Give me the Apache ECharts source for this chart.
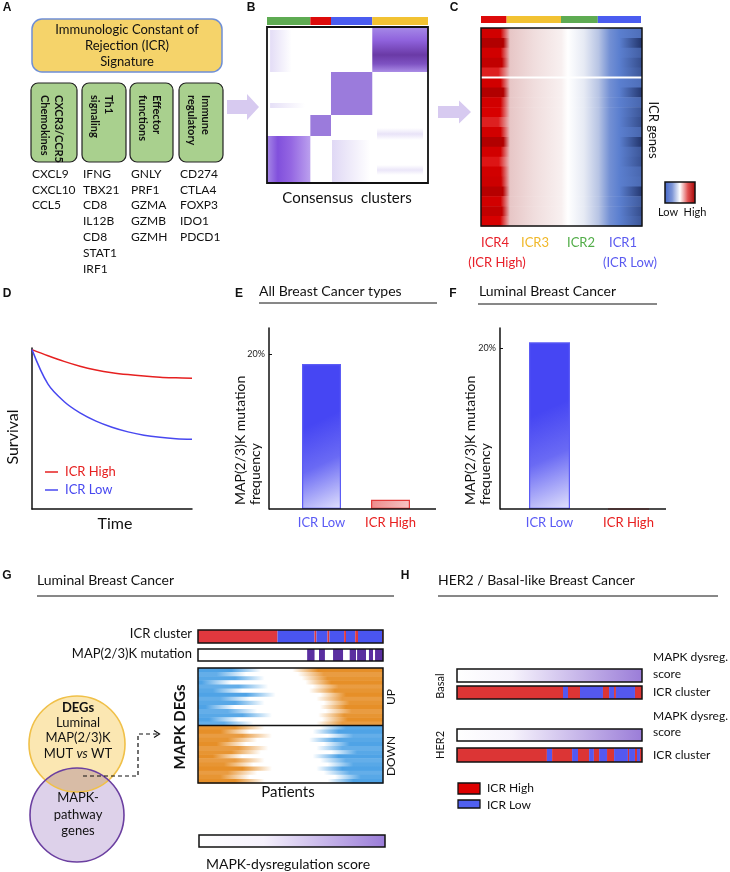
<!DOCTYPE html>
<html><head><meta charset="utf-8">
<script src="https://cdn.jsdelivr.net/npm/echarts@6/dist/echarts.min.js"></script>
<style>html,body{margin:0;padding:0;background:#fff}#main{width:730px;height:872px}</style>
</head><body><div id="main"></div>
<script>
// ================= DATA =================
// Panel A
const icrCategories = ['CXCR3/CCR5\nChemokines', 'Th1\nsignaling', 'Effector\nfunctions', 'Immune\nregulatory'];
const icrGenes = [
  ['CXCL9', 'CXCL10', 'CCL5'],
  ['IFNG', 'TBX21', 'CD8', 'IL12B', 'CD8', 'STAT1', 'IRF1'],
  ['GNLY', 'PRF1', 'GZMA', 'GZMB', 'GZMH'],
  ['CD274', 'CTLA4', 'FOXP3', 'IDO1', 'PDCD1']
];
// Panel B: consensus clusters (column order: ICR2, ICR4, ICR1, ICR3)
const consensusClusters = ['ICR2', 'ICR4', 'ICR1', 'ICR3'];
const consensusColSizes = [21, 10, 20, 27];
// consensus blocks: [colFrom, colTo, rowFrom, rowTo, consensus, shading]
const consensusBlocks = [
  [0, 21, 0, 23.5, 0.8, 'h'],
  [21, 31, 23.5, 34, 0.75, 'f'],
  [31, 51, 34, 55.5, 0.75, 'f'],
  [51, 78, 55.5, 78, 0.9, 'v'],
  [1.5, 12, 55.5, 76.5, 0.22, 'fade'],
  [1.5, 18.4, 37.5, 40, 0.2, 'fade'],
  [31.5, 50, 0.5, 21.5, 0.25, 'fade'],
  [53.3, 75.6, 21.5, 27.5, 0.18, 'strip'],
  [53.3, 75.6, 4, 9, 0.16, 'strip']
];
// Panel C: ICR clusters (ICR4, ICR3, ICR2, ICR1) and gene rows [red level, blue level]
const icrClusterNames = ['ICR4', 'ICR3', 'ICR2', 'ICR1'];
const icrClusterSub = ['(ICR High)', '', '', '(ICR Low)'];
const icrClusterSizes = [16, 34, 23, 27];
const icrGeneRows = [
  [0.6, 0.2], [0.9, 0.9], [0.6, 0.4], [0.75, 0.6], [0.35, 0.5],
  [0.6, 0.2], [0.9, 0.85], [0.6, 0.3], [0.55, 0.5], [0.35, 0.6],
  [0.6, 0.3], [0.9, 0.9], [0.6, 0.5], [0.4, 0.55], [0.6, 0.3],
  [0.65, 0.25], [0.85, 0.85], [0.6, 0.45], [0.75, 0.6], [0.55, 0.5]
];
const icrGeneRowSplit = 5;
// Panel D: survival curves [time, survival]
const survHigh = [[0,0.99],[1,0.952],[2,0.917],[3,0.887],[4,0.864],[5,0.847],[6,0.835],[7,0.826],[8,0.819],[9,0.815],[10,0.812]];
const survLow = [[0,0.99],[1,0.775],[2,0.668],[3,0.597],[4,0.546],[5,0.508],[6,0.479],[7,0.458],[8,0.445],[9,0.437],[10,0.433]];
// Panels E, F: MAP(2/3)K mutation frequency (%)
const mutCategories = ['ICR Low', 'ICR High'];
const mutFreqAll = [18.7, 1.2];
const mutFreqLuminal = [20.7, 0];
const mutTicks = [20];
// Panel G: patients (0-100) ICR cluster runs, mutation segments, heatmap rows
const gIcrRuns = [['High',43],['Low',20],['High',1],['Low',6],['High',1],['Low',8],['High',1],['Low',5],['High',1.5],['Low',13],['High',0.5]];
const gMutSegments = [[59,63],[65.4,68.6],[73,78.4],[82,85.4],[86,90.8],[92.4,94.6],[95.7,100]];
const gUpRows = [[0.28,0.55],[0.2,0.58],[0.3,0.6],[0.12,0.62],[0.32,0.66],[0.18,0.64],[0.36,0.7],[0.22,0.68],[0.3,0.72],[0.14,0.7],[0.26,0.73],[0.34,0.69],[0.16,0.71],[0.24,0.68]];
const gDownRows = [[0.3,0.7],[0.22,0.66],[0.34,0.74],[0.26,0.64],[0.2,0.72],[0.32,0.68],[0.28,0.76],[0.18,0.66],[0.3,0.7],[0.24,0.74],[0.34,0.68],[0.26,0.72],[0.22,0.78],[0.3,0.74]];
// Panel H: ICR cluster runs per subtype
const hBasalRuns = [['High',57.3],['Low',2.7],['High',6.5],['Low',12.4],['High',3.3],['Low',2.7],['High',1],['Low',10.3],['High',3.8]];
const hHer2Runs = [['High',48.6],['Low',2.8],['High',10.8],['Low',3.2],['High',6],['Low',2.6],['High',2.8],['Low',4.3],['High',3.8],['Low',7.5],['High',0.6],['Low',3.2],['High',1.1],['Low',1.6],['High',1.1]];

// ================= STYLE / HELPERS =================
const FONT = 'Lato, "Open Sans", sans-serif';
const C_RED = '#dd0a0a', C_YEL = '#f2c232', C_GRN = '#5eab52', C_BLU = '#4a5cf0';
const consensusColors = [C_GRN, C_RED, C_BLU, C_YEL];
const icrColors = [C_RED, C_YEL, C_GRN, C_BLU];
const icrTextColors = ['#e8202a', '#f0b82a', '#52ad48', '#5a5af0'];
const gIcrColors = {High: '#e0383e', Low: '#4a55f0'};
const hIcrColors = {High: '#dc3535', Low: '#5458f0'};
const LG = echarts.graphic.LinearGradient;

function hex2rgb(h){h=h.replace('#','');return [0,2,4].map(i=>parseInt(h.substr(i,2),16));}
function mix(a,b,t){const A=hex2rgb(a),B=hex2rgb(b);return 'rgb('+A.map((v,i)=>Math.round(v+(B[i]-v)*t)).join(',')+')';}
function cum(sizes){const o=[0];sizes.forEach(s=>o.push(o[o.length-1]+s));return o;}
function runsToSegs(runs){let s=0;return runs.map(([k,w])=>{const r=[s,s+w,k];s+=w;return r;});}

const grids=[], xAxes=[], yAxes=[], series=[], G=[];
function addGrid(rect, xa, ya){
  const gi=grids.length;
  grids.push(Object.assign({show:false, containLabel:false, outerBoundsMode:'none'}, rect));
  xAxes.push(Object.assign({gridIndex:gi}, xa));
  yAxes.push(Object.assign({gridIndex:gi}, ya));
  return gi;
}
function hv(min,max,extra){return Object.assign({type:'value',min,max,show:false},extra||{});}
function frame(gi, lw, midValue){
  series.push({type:'custom', xAxisIndex:gi, yAxisIndex:gi, silent:true, z:5, data:[[0,0]],
    renderItem(params, api){
      const c=params.coordSys;
      const ch=[{type:'rect', shape:{x:c.x,y:c.y,width:c.width,height:c.height}, style:{fill:'none',stroke:'#111',lineWidth:lw||1.5}}];
      if(midValue!=null){const p=api.coord([0,midValue]);ch.push({type:'line',shape:{x1:c.x,y1:p[1],x2:c.x+c.width,y2:p[1]},style:{stroke:'#111',lineWidth:1.5}});}
      return {type:'group', children:ch};
    }});
}
function segSeries(gi, segs, colorMap){
  series.push({type:'custom', xAxisIndex:gi, yAxisIndex:gi, silent:true, data:segs.map(s=>[s[0],s[1]]),
    renderItem(params, api){
      const s=segs[params.dataIndex];const a=api.coord([s[0],0]), b=api.coord([s[1],1]);
      return {type:'rect', shape:{x:a[0],y:b[1],width:b[0]-a[0],height:a[1]-b[1]}, style:{fill:colorMap[s[2]]}};
    }});
}
function txt(x,y,text,o){o=o||{};G.push({type:'text',x,y,rotation:o.rot||0,z:100,silent:true,
  style:{text,fill:o.color||'#111',font:o.font||('13px '+FONT),textAlign:o.align||'left',textVerticalAlign:o.va||'middle',lineHeight:o.lh||undefined}});}
function line(pts,o){o=o||{};G.push({type:'polyline',z:50,silent:true,shape:{points:pts},style:{stroke:o.color||'#111',lineWidth:o.w||1,lineDash:o.dash||null,fill:null}});}
function rect(x,y,w,h,style,r){G.push({type:'rect',z:20,silent:true,shape:{x,y,width:w,height:h,r:r||0},style});}
function arcPts(cx,cy,r,a0,a1,n){const p=[];for(let k=0;k<=n;k++){const a=a0+(a1-a0)*k/n;p.push([cx+r*Math.cos(a),cy+r*Math.sin(a)]);}return p;}

// ================= PANEL LABELS =================
const LBL = 'bold 12px "Liberation Sans", Arial, sans-serif';
[['A',7,8],['B',251,8],['C',454,8],['D',7,294],['E',239,294],['F',453,294],['G',7,576],['H',405,576]].forEach(([t,x,y])=>txt(x,y,t,{font:LBL,align:'center'}));

// ================= PANEL A =================
rect(32,19,190,53,{fill:'#f5d36a',stroke:'#6f8fd6',lineWidth:1.5},10);
txt(127,30,'Immunologic Constant of',{align:'center',font:'13px '+FONT});
txt(127,46,'Rejection (ICR)',{align:'center',font:'13px '+FONT});
txt(127,62,'Signature',{align:'center',font:'13px '+FONT});
const boxX=[[31,77],[82,126],[130,173],[179,223]];
const geneX=[32,83,131,180];
icrCategories.forEach((c,i)=>{
  const [x0,x1]=boxX[i];
  rect(x0,83,x1-x0,79,{fill:'#a9d08e',stroke:'#222',lineWidth:1.2},7);
  txt((x0+x1)/2-2,95,c,{rot:-Math.PI/2,font:'bold 11px '+FONT,align:'left',va:'middle',lh:14});
  icrGenes[i].forEach((g,j)=>txt(geneX[i],174+j*15.8,g,{font:'12px '+FONT}));
});
// block arrows
function blockArrow(x0,xh,xt,yc,bh,hh){G.push({type:'polygon',z:10,silent:true,shape:{points:[[x0,yc-bh],[xh,yc-bh],[xh,yc-hh],[xt,yc],[xh,yc+hh],[xh,yc+bh],[x0,yc+bh]]},style:{fill:'#d7caf0'}});}
blockArrow(227,247,259,107,7,13);
blockArrow(438,459,471,112,6,11.5);

// ================= PANEL B =================
const bTotal = consensusColSizes.reduce((a,b)=>a+b,0);
const bCum = cum(consensusColSizes);
const gB = addGrid({left:267,top:27,width:161,height:156}, hv(0,bTotal), hv(0,78));
series.push({type:'custom', xAxisIndex:gB, yAxisIndex:gB, silent:true, data:consensusBlocks.map(b=>[b[0],b[2]]),
  renderItem(params, api){
    const b=consensusBlocks[params.dataIndex];
    const p0=api.coord([b[0],b[3]]), p1=api.coord([b[1],b[2]]);
    let fill;
    if(b[5]==='h') fill=new LG(0,0,1,0,[{offset:0,color:'#a688e6'},{offset:0.25,color:'#8150dc'},{offset:0.55,color:'#9466e2'},{offset:1,color:'#bba0ee'}]);
    else if(b[5]==='f') fill='#9b7bdc';
    else if(b[5]==='v') fill=new LG(0,0,0,1,[{offset:0,color:'#a68ae8'},{offset:0.3,color:'#8f62dc'},{offset:0.62,color:'#6a3aa6'},{offset:0.82,color:'#7e52c2'},{offset:1,color:'#ab8de6'}]);
    else if(b[5]==='fade') fill=new LG(0,0,1,0,[{offset:0,color:'rgba(130,100,215,'+b[4]+')'},{offset:0.5,color:'rgba(130,100,215,'+(b[4]*0.5)+')'},{offset:1,color:'rgba(130,100,215,0)'}]);
    else fill=new LG(0,0,0,1,[{offset:0,color:'rgba(130,100,215,0)'},{offset:0.5,color:'rgba(130,100,215,'+b[4]+')'},{offset:1,color:'rgba(130,100,215,0)'}]);
    return {type:'rect', shape:{x:p0[0],y:p0[1],width:p1[0]-p0[0],height:p1[1]-p0[1]}, style:{fill}};
  }});
frame(gB, 1.8);
const gBbar = addGrid({left:267,top:17,width:161,height:8}, hv(0,bTotal), hv(0,1));
segSeries(gBbar, consensusColSizes.map((s,i)=>[bCum[i],bCum[i+1],i]), consensusColors);
txt(347,198,'Consensus  clusters',{align:'center',font:'15px '+FONT});

// ================= PANEL C =================
const cCum = cum(icrClusterSizes);
const cTot = cCum[cCum.length-1];
const gC = addGrid({left:481,top:28,width:161,height:198}, hv(0,cTot), hv(0,icrGeneRows.length,{inverse:true}));
series.push({type:'custom', xAxisIndex:gC, yAxisIndex:gC, silent:true, data:icrGeneRows.map((r,i)=>[0,i]),
  renderItem(params, api){
    const i=params.dataIndex, r=icrGeneRows[i];
    const p0=api.coord([0,i]), p1=api.coord([cTot,i+1]);
    const b1=cCum[1]/cTot, b2=cCum[2]/cTot, b3=cCum[3]/cTot;
    const red = r[0]>=0.5 ? mix('#dc0000','#a60000',(r[0]-0.5)*2) : mix('#e06a6a','#dc0000',r[0]*2);
    const blueEnd = mix('#5b7fcf','#1c2c60',r[1]);
    const hold = b1*(0.55+0.35*r[0]);
    const fill=new LG(0,0,1,0,[{offset:0,color:red},{offset:hold,color:red},{offset:b1+0.02,color:'#e7c6c6'},{offset:(b1+b2)/2,color:'#f0dddd'},{offset:b2,color:'#f8f0f0'},{offset:b2+0.04,color:'#ffffff'},{offset:b3-0.09,color:'#e6eaf4'},{offset:b3,color:'#b7c4e4'},{offset:b3+0.07,color:'#7390d4'},{offset:0.86,color:'#5b7fcf'},{offset:1,color:blueEnd}]);
    const ch=[{type:'rect',shape:{x:p0[0],y:p0[1],width:p1[0]-p0[0],height:p1[1]-p0[1]+0.5},style:{fill}}];
    if(i===icrGeneRowSplit) ch.push({type:'line',shape:{x1:p0[0],y1:p0[1],x2:p1[0],y2:p0[1]},style:{stroke:'#fff',lineWidth:2}});
    return {type:'group',children:ch};
  }});
frame(gC, 1.5);
const gCbar = addGrid({left:481,top:16,width:160,height:7}, hv(0,cTot), hv(0,1));
segSeries(gCbar, icrClusterSizes.map((s,i)=>[cCum[i],cCum[i+1],i]), icrColors);
txt(653,130,'ICR genes',{rot:-Math.PI/2,align:'center',font:'13px '+FONT});
rect(665,182,30,21,{fill:new LG(0,0,1,0,[{offset:0,color:'#3f63c8'},{offset:0.25,color:'#7d95d6'},{offset:0.5,color:'#ffffff'},{offset:0.75,color:'#e05050'},{offset:1,color:'#a00000'}]),stroke:'#111',lineWidth:1.5});
txt(668,212,'Low',{align:'center',font:'11px '+FONT});
txt(695,212,'High',{align:'center',font:'11px '+FONT});
const cLabX=[495,535,581,623];
icrClusterNames.forEach((n,i)=>{txt(cLabX[i],243,n,{align:'center',color:icrTextColors[i]});});
txt(497,263,icrClusterSub[0],{align:'center',color:icrTextColors[0]});
txt(630,263,icrClusterSub[3],{align:'center',color:icrTextColors[3]});

// ================= PANEL D =================
const axLine={show:true,lineStyle:{color:'#111',width:1.5}};
const gD = addGrid({left:32,top:348,width:160,height:161},
  {type:'value',min:0,max:10,axisLine:axLine,axisTick:{show:false},axisLabel:{show:false},splitLine:{show:false}},
  {type:'value',min:0,max:1,axisLine:axLine,axisTick:{show:false},axisLabel:{show:false},splitLine:{show:false}});
series.push({type:'line',xAxisIndex:gD,yAxisIndex:gD,data:survHigh,smooth:0.35,showSymbol:false,lineStyle:{color:'#e62020',width:1.5},silent:true});
series.push({type:'line',xAxisIndex:gD,yAxisIndex:gD,data:survLow,smooth:0.35,showSymbol:false,lineStyle:{color:'#4848f0',width:1.5},silent:true});
txt(13,437,'Survival',{rot:Math.PI/2,align:'center',font:'16px '+FONT});
txt(115,524,'Time',{align:'center',font:'16px '+FONT});
line([[45,472],[58,472]],{color:'#e62020',w:1.5});
txt(65,472,'ICR High',{color:'#e62020'});
line([[45,490],[58,490]],{color:'#4848f0',w:1.5});
txt(65,490,'ICR Low',{color:'#4848f0'});

// ================= PANELS E, F =================
const catColors=['#5a5af5','#e82020'];
function barPanel(rect, yOffset, maxV, vals, barW, axX0, axX1){
  const gi = addGrid(rect,
    {type:'category',data:mutCategories,axisLine:{show:false},axisTick:{show:false},
      axisLabel:{margin:7,fontSize:13,fontFamily:FONT,color:(v,i)=>catColors[i]}},
    {type:'value',min:0,max:maxV,offset:yOffset,axisLine:axLine,splitLine:{show:false},
      axisTick:{show:true,inside:true,length:3,customValues:mutTicks,lineStyle:{color:'#111'}},
      axisLabel:{customValues:mutTicks,formatter:'{value}%',fontSize:9,fontFamily:FONT,color:'#222',margin:4}});
  series.push({type:'bar',xAxisIndex:gi,yAxisIndex:gi,barWidth:barW,silent:true,
    data:vals.map((v,i)=>({value:v,itemStyle: i===0
      ? {color:new LG(0,0.45,1,1,[{offset:0,color:'#4646f3'},{offset:0.45,color:'#6a6af4'},{offset:1,color:'#e2e2fc'}]),borderColor:'#5c5cf5',borderWidth:1.2}
      : {color:new LG(0,0,1,1,[{offset:0,color:'#ee8a8a'},{offset:1,color:'#f6c6c6'}]),borderColor:'#e23b3b',borderWidth:1.2}}))});
  line([[axX0,509],[axX1,509]],{w:1.5});
  return gi;
}
barPanel({left:287,top:328,width:138,height:181},18,181/155*20,mutFreqAll,39,269,436);
barPanel({left:510,top:328,width:158,height:181},10,181/161*20,mutFreqLuminal,41,500,666);
txt(259,291,'All Breast Cancer types',{font:'14px '+FONT});
line([[259,303],[437,303]]);
txt(479,291,'Luminal Breast Cancer',{font:'14px '+FONT});
line([[478,304],[657,304]]);
txt(233,505,'MAP(2/3)K mutation\nfrequency',{rot:Math.PI/2,align:'left',va:'top',font:'14px '+FONT,lh:15});
txt(463,505,'MAP(2/3)K mutation\nfrequency',{rot:Math.PI/2,align:'left',va:'top',font:'14px '+FONT,lh:15});

// ================= PANEL G =================
txt(37,580,'Luminal Breast Cancer',{font:'14px '+FONT});
line([[37,596],[394,596]]);
const gGicr = addGrid({left:198,top:630,width:185,height:13}, hv(0,100), hv(0,1));
segSeries(gGicr, runsToSegs(gIcrRuns), gIcrColors);
frame(gGicr,1.5);
const gGmut = addGrid({left:198,top:649,width:185,height:12}, hv(0,100), hv(0,1));
segSeries(gGmut, gMutSegments.map(s=>[s[0],s[1],'m']), {m:'#5a2ea0'});
frame(gGmut,1.5);
txt(192,634,'ICR cluster',{align:'right'});
txt(192,654,'MAP(2/3)K mutation',{align:'right'});
const gRows = gUpRows.map(r=>[r[0],r[1],'up']).concat(gDownRows.map(r=>[r[0],r[1],'down']));
const gHeat = addGrid({left:198,top:668,width:185,height:115}, hv(0,1), hv(0,gRows.length,{inverse:true}));
series.push({type:'custom',xAxisIndex:gHeat,yAxisIndex:gHeat,silent:true,data:gRows.map((r,i)=>[0,i]),
  renderItem(params, api){
    const i=params.dataIndex, r=gRows[i];
    const p0=api.coord([0,i]), p1=api.coord([1,i+1]);
    const tone=(i%3===1)?0.12:(i%3===2?0.05:0);
    const blue=mix('#4fa3e6','#ffffff',tone), orange=mix('#e68f28','#ffffff',tone);
    const L = r[2]==='up'?blue:orange, R = r[2]==='up'?orange:blue;
    const a=r[0], b=r[1];
    const fill=new LG(0,0,1,0,[{offset:0,color:L},{offset:Math.max(0.01,a-0.1),color:L},{offset:a+0.06,color:'#ffffff'},{offset:b-0.04,color:'#ffffff'},{offset:Math.min(0.99,b+0.1),color:R},{offset:1,color:R}]);
    return {type:'rect',shape:{x:p0[0],y:p0[1],width:p1[0]-p0[0],height:p1[1]-p0[1]+0.5},style:{fill}};
  }});
frame(gHeat,1.5,gUpRows.length);
txt(180,727,'MAPK DEGs',{rot:Math.PI/2,align:'center',font:'bold 15px '+FONT});
txt(391,697,'UP',{rot:Math.PI/2,align:'center',font:'12px '+FONT});
txt(391,756,'DOWN',{rot:Math.PI/2,align:'center',font:'12px '+FONT});
txt(288,792,'Patients',{align:'center',font:'15px '+FONT});
// Venn diagram
const venn1={cx:77,cy:744,r:48}, venn2={cx:77,cy:815,r:47};
G.push({type:'circle',z:20,silent:true,shape:venn2,style:{fill:'#ddd1ea'}});
G.push({type:'circle',z:21,silent:true,shape:venn1,style:{fill:'#fbe7b2'}});
(function(){
  const dx=venn2.cx-venn1.cx, dy=venn2.cy-venn1.cy, d=Math.hypot(dx,dy);
  const a=(venn1.r*venn1.r-venn2.r*venn2.r+d*d)/(2*d), h=Math.sqrt(venn1.r*venn1.r-a*a);
  const px=venn1.cx+a*dx/d, py=venn1.cy+a*dy/d;
  const P1=[px+h*dy/d, py-h*dx/d], P2=[px-h*dy/d, py+h*dx/d];
  const ang=(c,p)=>Math.atan2(p[1]-c.cy,p[0]-c.cx);
  const A=[P1,P2].sort((u,v)=>u[0]-v[0]);
  let a10=ang(venn1,A[1]), a11=ang(venn1,A[0]);
  let a20=ang(venn2,A[0]), a21=ang(venn2,A[1]);
  if(a11<a10) a11+=2*Math.PI;
  if(a21<a20) a21+=2*Math.PI;
  const pts=arcPts(venn1.cx,venn1.cy,venn1.r,a10,a11,40).concat(arcPts(venn2.cx,venn2.cy,venn2.r,a20,a21,40));
  G.push({type:'polygon',z:22,silent:true,shape:{points:pts},style:{fill:'#d8bca6'}});
})();
G.push({type:'circle',z:23,silent:true,shape:venn1,style:{fill:'none',stroke:'#f0c048',lineWidth:1.6}});
G.push({type:'circle',z:23,silent:true,shape:venn2,style:{fill:'none',stroke:'#6b3fa0',lineWidth:1.6}});
txt(78,708,'DEGs',{align:'center',font:'bold 13px '+FONT});
txt(78,723,'Luminal',{align:'center'});
txt(78,738,'MAP(2/3)K',{align:'center'});
G.push({type:'text',x:78,y:754,z:100,silent:true,style:{text:'{n|MUT }{i|vs}{n| WT}',textAlign:'center',textVerticalAlign:'middle',rich:{n:{font:'13px '+FONT,fill:'#111'},i:{font:'italic 13px '+FONT,fill:'#111'}}}});
txt(78,798,'MAPK-',{align:'center'});
txt(78,815,'pathway',{align:'center'});
txt(78,831,'genes',{align:'center'});
line([[83,776],[138,776],[138,734],[159,734]],{dash:[4,3],w:1.2});
line([[154,730.5],[159.5,734],[154,737.5]],{w:1.2});
rect(199,835,186,12,{fill:new LG(0,0,1,0,[{offset:0,color:'#ffffff'},{offset:0.35,color:'#f4f0fb'},{offset:1,color:'#9a7cd8'}]),stroke:'#111',lineWidth:1.5});
txt(288,864,'MAPK-dysregulation score',{align:'center',font:'14px '+FONT});

// ================= PANEL H =================
txt(438,580,'HER2 / Basal-like Breast Cancer',{font:'14px '+FONT});
line([[438,596],[718,596]]);
const scoreFill=()=>new LG(0,0,1,0,[{offset:0,color:'#ffffff'},{offset:0.3,color:'#f6f3fc'},{offset:1,color:'#9a7cd8'}]);
rect(457,669,185,13,{fill:scoreFill(),stroke:'#111',lineWidth:1.5});
rect(457,729,185,12,{fill:scoreFill(),stroke:'#111',lineWidth:1.5});
const gHb = addGrid({left:457,top:686,width:185,height:13}, hv(0,100), hv(0,1));
segSeries(gHb, runsToSegs(hBasalRuns), hIcrColors);
frame(gHb,1.5);
const gHh = addGrid({left:457,top:748,width:185,height:14}, hv(0,100), hv(0,1));
segSeries(gHh, runsToSegs(hHer2Runs), hIcrColors);
frame(gHh,1.5);
txt(440,686,'Basal',{rot:Math.PI/2,align:'center',font:'11px '+FONT});
txt(440,745,'HER2',{rot:Math.PI/2,align:'center',font:'11px '+FONT});
txt(653,657,'MAPK dysreg.',{font:'12px '+FONT});
txt(653,674,'score',{font:'12px '+FONT});
txt(653,692,'ICR cluster',{font:'12px '+FONT});
txt(653,716,'MAPK dysreg.',{font:'12px '+FONT});
txt(653,732,'score',{font:'12px '+FONT});
txt(653,755,'ICR cluster',{font:'12px '+FONT});
rect(458,783,22,11,{fill:'#dd0000',stroke:'#111',lineWidth:1.3});
txt(487,788,'ICR High',{font:'12px '+FONT});
rect(458,800,22,8,{fill:'#5060f0',stroke:'#111',lineWidth:1.3});
txt(487,805,'ICR Low',{font:'12px '+FONT});

// ================= RENDER =================
const chart = echarts.init(document.getElementById('main'), null, {renderer:'canvas', width:730, height:872});
chart.setOption({animation:false, backgroundColor:'#fff', grid:grids, xAxis:xAxes, yAxis:yAxes, series, graphic:{elements:G}});
</script></body></html>
